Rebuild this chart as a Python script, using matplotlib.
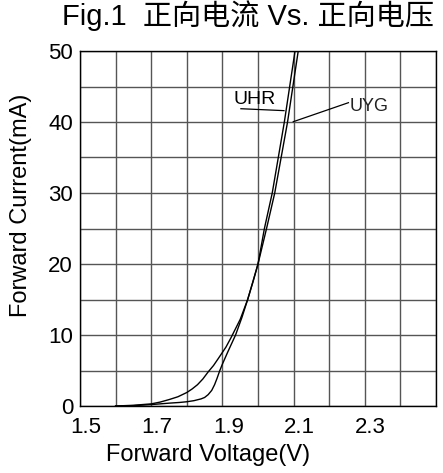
import matplotlib
matplotlib.use('Agg')
import matplotlib.pyplot as plt
import matplotlib.transforms as mtransforms

# values
uhr_v = [1.60, 1.65, 1.70, 1.75, 1.78, 1.80, 1.82, 1.84, 1.85, 1.86, 1.87, 1.878,
         1.885, 1.892, 1.90, 1.915, 1.937, 1.955, 1.971, 1.986, 2.00, 2.018,
         2.040, 2.074, 2.104]
uhr_i = [0.0, 0.05, 0.2, 0.4, 0.5, 0.6, 0.75, 1.0, 1.2, 1.6, 2.2, 3.0,
         3.9, 4.9, 5.9, 7.6, 10.0, 12.5, 15.0, 17.5, 20.0, 25.0,
         30.0, 40.0, 50.0]

uyg_v = [1.60, 1.65, 1.70, 1.725, 1.75, 1.775, 1.80, 1.815, 1.83, 1.845, 1.86,
         1.875, 1.89, 1.91, 1.924, 1.937, 1.95, 1.971, 1.985, 2.00, 2.024,
         2.047, 2.083, 2.113]
uyg_i = [0.0, 0.1, 0.3, 0.55, 0.9, 1.3, 1.9, 2.4, 3.0, 3.8, 4.8,
         5.7, 6.8, 8.3, 9.6, 10.9, 12.2, 15.0, 17.4, 20.0, 25.0,
         30.0, 40.0, 50.0]

x_ticks = [1.5, 1.6, 1.7, 1.8, 1.9, 2.0, 2.1, 2.2, 2.3, 2.4, 2.5]
x_labels = ['1.5', '', '1.7', '', '1.9', '', '2.1', '', '2.3', '', '']
y_ticks = [0, 5, 10, 15, 20, 25, 30, 35, 40, 45, 50]
y_labels = ['0', '', '10', '', '20', '', '30', '', '40', '', '50']

title = 'Fig.1  正向电流 Vs. 正向电压'
fonts = ['Liberation Sans', 'Noto Sans CJK SC', 'DejaVu Sans']
plt.rcParams['font.family'] = fonts

W, H = 443, 473
fig = plt.figure(figsize=(W / 100, H / 100), dpi=100)
ax = fig.add_axes([80 / W, 1 - 406 / H, 356 / W, 355 / H])

ax.plot(uhr_v, uhr_i, color='black', lw=1.0)
ax.plot(uyg_v, uyg_i, color='black', lw=1.0)

ax.set_xlim(1.5, 2.5)
ax.set_ylim(0, 50)
ax.set_xticks(x_ticks)
ax.set_xticklabels(x_labels)
ax.set_yticks(y_ticks)
ax.set_yticklabels(y_labels)
ax.tick_params(length=0, labelsize=16)
ax.tick_params(axis='x', pad=8)
ax.tick_params(axis='y', pad=5)
ax.grid(True, color='#555555', lw=1.0)
ax.set_axisbelow(True)
for s in ax.spines.values():
    s.set_color('black')
    s.set_linewidth(1.0)

# x tick labels sit a bit right of their grid lines
offset = mtransforms.ScaledTranslation(6 / 100, 0, fig.dpi_scale_trans)
for lab in ax.get_xticklabels():
    lab.set_transform(lab.get_transform() + offset)

# curve labels with pointer lines
ax.plot([1.952, 2.073], [41.87, 41.6], color='black', lw=0.9)
ax.text(1.930, 42.6, 'UHR', fontsize=14, ha='left', va='baseline')
ax.plot([2.254, 2.099], [42.72, 40.04], color='black', lw=0.9)
ax.text(2.256, 41.6, 'UYG', fontsize=13, ha='left', va='baseline',
        fontweight='light', color='#222222')

fig.text(248.5 / W, 1 - 25 / H, title, fontsize=21, ha='center', va='baseline')
fig.text(208 / W, 1 - 455 / H, 'Forward Voltage(V)', fontsize=17,
         ha='center', va='center')
fig.text(21 / W, 1 - 205 / H, 'Forward Current(mA)', fontsize=17,
         ha='center', va='center', rotation=90)

fig.savefig('out.png', dpi=100)
